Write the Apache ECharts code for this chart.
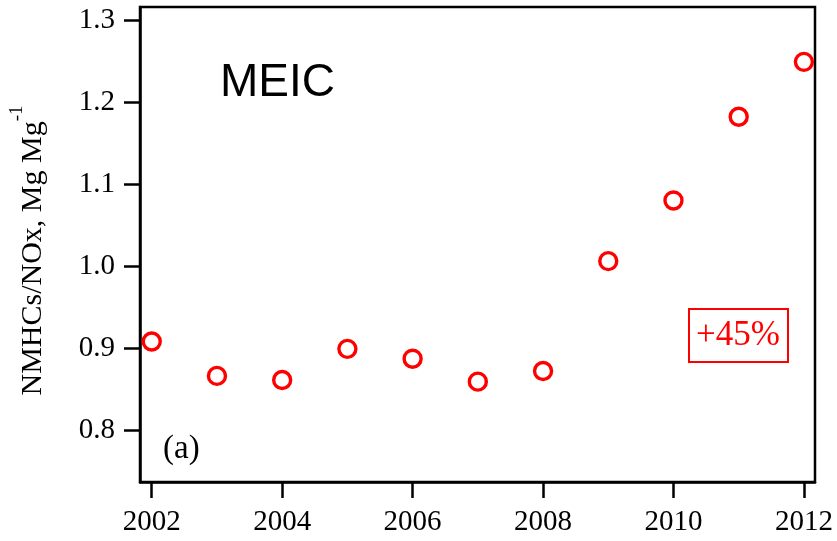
<!DOCTYPE html>
<html>
<head>
<meta charset="utf-8">
<script src="https://cdn.jsdelivr.net/npm/echarts@6/dist/echarts.min.js"></script>
<style>
  html, body { margin: 0; padding: 0; background: #fff; }
  #chart { width: 837px; height: 541px; }
</style>
</head>
<body>
<div id="chart"></div>
<script>
// NMHCs/NOx emission ratio from the MEIC inventory, 2002-2012
const years = [2002, 2003, 2004, 2005, 2006, 2007, 2008, 2009, 2010, 2011, 2012];
const ratio = [0.908, 0.866, 0.861, 0.899, 0.887, 0.859, 0.872, 1.006, 1.080, 1.182, 1.249];
const xTicks = [2002, 2004, 2006, 2008, 2010, 2012];
const yTicks = [0.8, 0.9, 1.0, 1.1, 1.2, 1.3];

const serif = '"Liberation Serif", "Times New Roman", serif';
const sans = '"Liberation Sans", Arial, sans-serif';

const chart = echarts.init(document.getElementById('chart'), null, { renderer: 'canvas' });

chart.setOption({
  animation: false,
  backgroundColor: '#fff',
  grid: {
    left: 138, right: 22, top: 7, bottom: 59,
    show: true, borderColor: '#000', borderWidth: 2.5, backgroundColor: 'transparent'
  },
  xAxis: {
    type: 'value',
    min: 2001.82, max: 2012.17,
    splitLine: { show: false },
    axisLine: { show: true, lineStyle: { color: '#000', width: 2.5 } },
    axisTick: { show: true, customValues: xTicks, length: 16, inside: false, lineStyle: { color: '#000', width: 2.5 } },
    axisLabel: {
      customValues: xTicks, margin: 26, color: '#000',
      fontFamily: serif, fontSize: 29,
      formatter: v => String(Math.round(v))
    }
  },
  yAxis: {
    type: 'value',
    min: 0.7366, max: 1.3159,
    splitLine: { show: false },
    axisLine: { show: true, lineStyle: { color: '#000', width: 2.5 } },
    axisTick: { show: true, customValues: yTicks, length: 16, inside: false, lineStyle: { color: '#000', width: 2.5 } },
    axisLabel: {
      customValues: yTicks, margin: 25, color: '#000',
      fontFamily: serif, fontSize: 29,
      formatter: v => v.toFixed(1)
    },
    name: '{t|NMHCs/NOx, Mg Mg}{sup|-1}',
    nameLocation: 'middle',
    nameRotate: 90,
    nameGap: 92,
    nameTextStyle: {
      padding: [0, 12, 0, 0],
      rich: {
        t: { fontFamily: serif, fontSize: 30, color: '#000', lineHeight: 40, verticalAlign: 'bottom' },
        sup: { fontFamily: serif, fontSize: 19, color: '#000', lineHeight: 18, verticalAlign: 'top' }
      }
    }
  },
  series: [{
    type: 'scatter',
    data: years.map((y, i) => [y, ratio[i]]),
    symbol: 'circle',
    symbolSize: 17,
    itemStyle: { color: '#fff', borderColor: '#ff0000', borderWidth: 3.4, opacity: 1 },
    z: 5
  }],
  graphic: [
    {
      type: 'text', left: 220, top: 60, silent: true,
      style: { text: 'MEIC', font: '46px ' + sans, fill: '#000' }
    },
    {
      type: 'text', left: 163, top: 433, silent: true,
      style: { text: '(a)', font: '33px ' + serif, fill: '#000' }
    },
    {
      type: 'rect', silent: true,
      shape: { x: 689, y: 309, width: 99, height: 53 },
      style: { fill: '#fff', stroke: '#ff0000', lineWidth: 2 }
    },
    {
      type: 'text', silent: true, x: 738, y: 336,
      style: { text: '+45%', font: '35px ' + serif, fill: '#ff0000', align: 'center', verticalAlign: 'middle' }
    }
  ]
});
</script>
</body>
</html>
